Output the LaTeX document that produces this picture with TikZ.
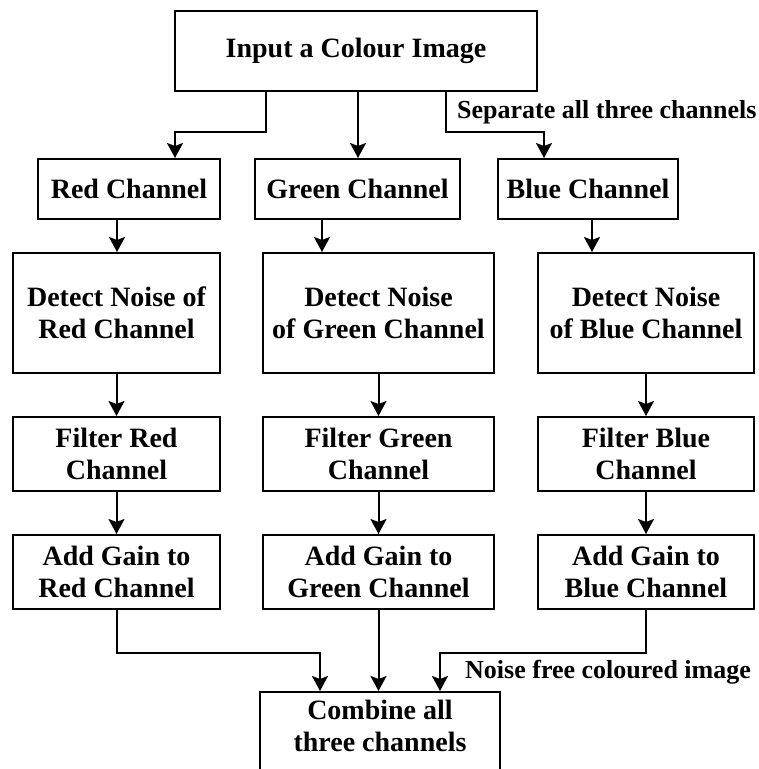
\documentclass[tikz,border=0pt]{standalone}
\usepackage{fontspec}
\setmainfont{Liberation Serif}
\usetikzlibrary{arrows.meta}
\begin{document}
\begin{tikzpicture}[x=1pt,y=-1pt,
  box/.style={draw, line width=2pt, align=center, inner sep=0pt,
    font=\bfseries\fontsize{28}{32}\selectfont},
  arr/.style={line width=2pt, -{Stealth[length=15pt,width=16pt,inset=3pt]}},
  lbl/.style={font=\bfseries\fontsize{26}{30}\selectfont, inner sep=0pt, anchor=base west}]
\useasboundingbox (0,0) rectangle (759,769);
\clip (0,0) rectangle (759,769);

% column guides for the connectors
\coordinate (xTopR) at (266,0);
\coordinate (xInR) at (175,0);
\coordinate (xTopG) at (358,0);
\coordinate (xTopB) at (446,0);
\coordinate (xInB) at (544,0);
\coordinate (xR) at (117,0);
\coordinate (xG) at (322,0);
\coordinate (xB) at (592,0);
\coordinate (xCR) at (320,0);
\coordinate (xCB) at (440,0);

% boxes
\node[box, minimum width=362, minimum height=80] (top) at (356,51) {Input a Colour Image};

\node[box, minimum width=182, minimum height=60] (red) at (129,189) {Red Channel};
\node[box, minimum width=205, minimum height=60] (green) at (357.5,189) {Green Channel};
\node[box, minimum width=180, minimum height=60] (blue) at (588,189) {Blue Channel};

\node[box, minimum width=207, minimum height=120] (detR) at (116.5,313) {Detect Noise of\\Red Channel};
\node[box, minimum width=231, minimum height=120] (detG) at (378.5,313) {Detect Noise\\of Green Channel};
\node[box, minimum width=216, minimum height=120] (detB) at (646,313) {Detect Noise\\of Blue Channel};

\node[box, minimum width=207, minimum height=74] (filR) at (116.5,454) {Filter Red\\Channel};
\node[box, minimum width=231, minimum height=74] (filG) at (378.5,454) {Filter Green\\Channel};
\node[box, minimum width=216, minimum height=74] (filB) at (646,454) {Filter Blue\\Channel};

\node[box, minimum width=207, minimum height=74] (gainR) at (116.5,572) {Add Gain to\\Red Channel};
\node[box, minimum width=231, minimum height=74] (gainG) at (378.5,572) {Add Gain to\\Green Channel};
\node[box, minimum width=216, minimum height=74] (gainB) at (646,572) {Add Gain to\\Blue Channel};

\node[box, minimum width=240, anchor=north, inner ysep=8pt, text depth=70pt] (comb) at (380,691) {Combine all\\three channels};

% connectors
\draw[arr] (top.south -| xTopR) -- ++(0,40) -| (red.north -| xInR);
\draw[arr] (top.south -| xTopG) -- (green.north -| xTopG);
\draw[arr] (top.south -| xTopB) -- ++(0,40) -| (blue.north -| xInB);

\draw[arr] (red.south -| xR) -- (detR.north -| xR);
\draw[arr] (green.south -| xG) -- (detG.north -| xG);
\draw[arr] (blue.south -| xB) -- (detB.north -| xB);

\draw[arr] (detR) -- (filR);
\draw[arr] (detG) -- (filG);
\draw[arr] (detB) -- (filB);

\draw[arr] (filR) -- (gainR);
\draw[arr] (filG) -- (gainG);
\draw[arr] (filB) -- (gainB);

\draw[arr] (gainR.south) -- ++(0,43) -| (comb.north -| xCR);
\draw[arr] (gainG.south) -- (gainG.south |- comb.north);
\draw[arr] (gainB.south) -- ++(0,43) -| (comb.north -| xCB);

% labels
\node[lbl] (sep) at (457,118) {Separate all three channels};
\node[lbl] (nf) at (465,678) {Noise free coloured image};
\end{tikzpicture}
\end{document}
